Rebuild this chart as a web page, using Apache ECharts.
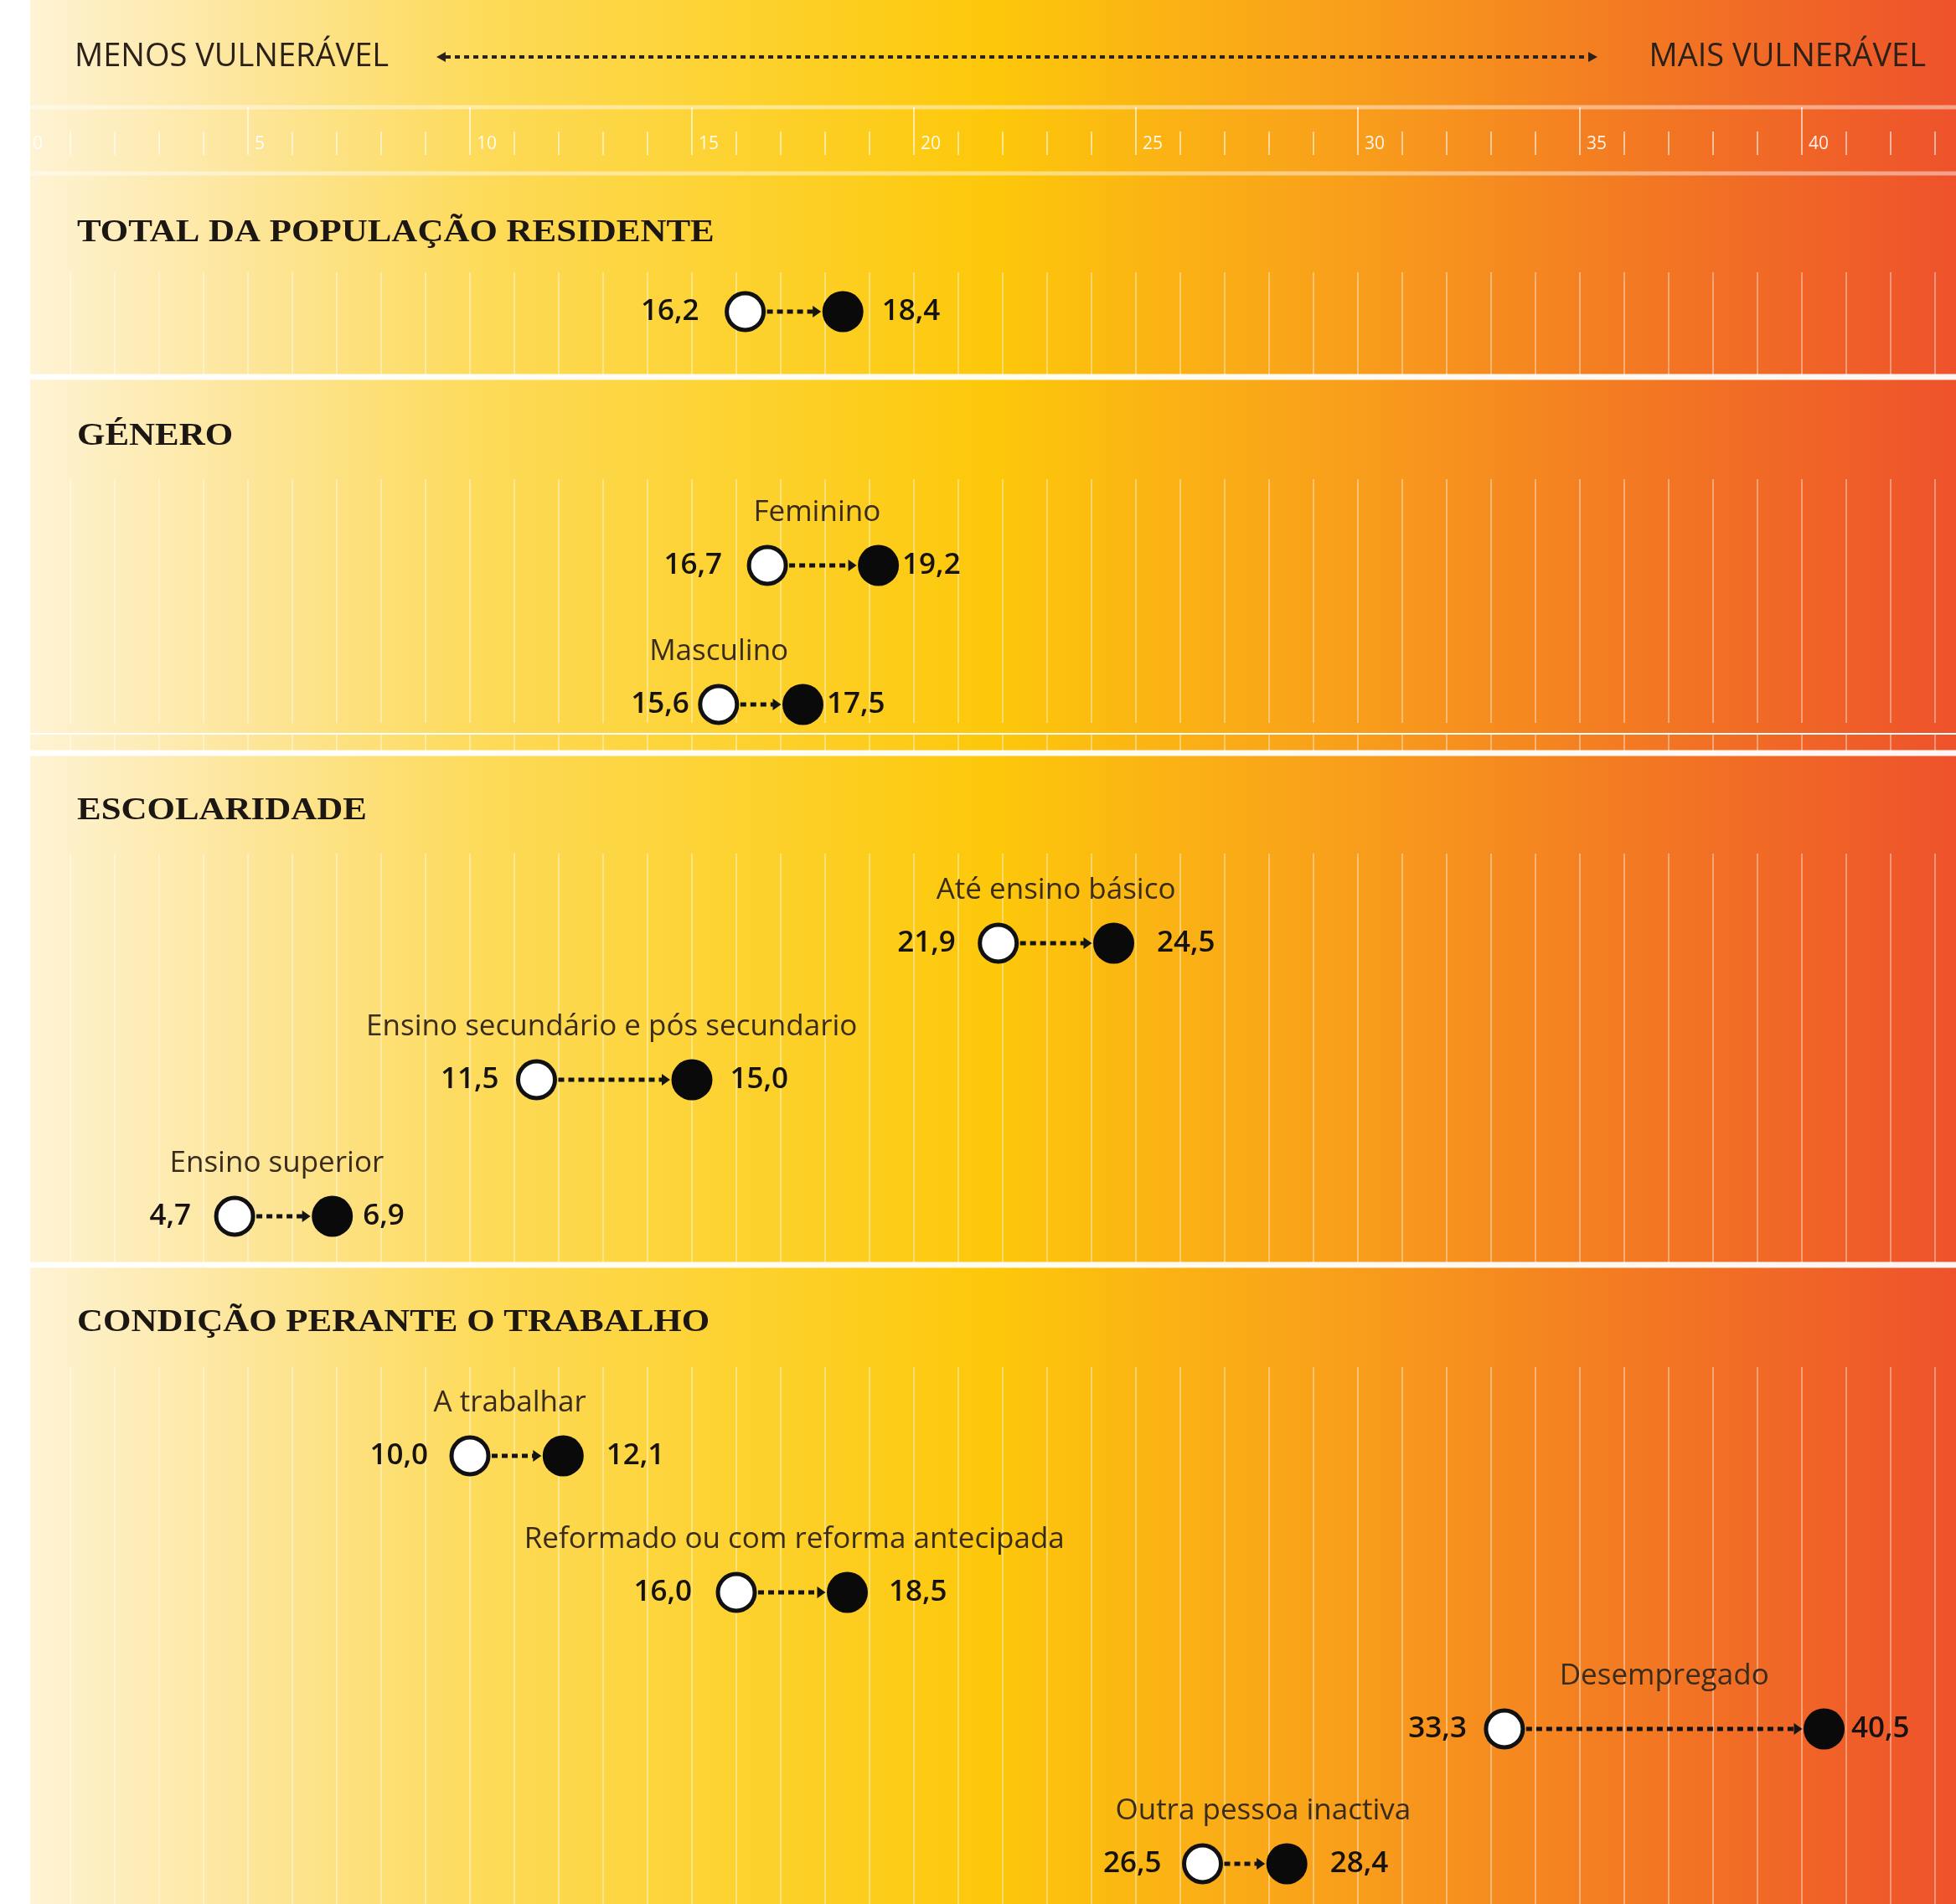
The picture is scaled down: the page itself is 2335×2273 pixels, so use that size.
<!DOCTYPE html>
<html>
<head>
<meta charset="utf-8">
<script src="https://cdn.jsdelivr.net/npm/echarts@6/dist/echarts.min.js"></script>
<style>
html,body{margin:0;padding:0;background:#ffffff;overflow:hidden;}
#chart{width:2416px;height:2273px;}
</style>
</head>
<body>
<div id="chart"></div>
<script>
// ---------------- DATA ----------------
const sectionTitles = ['TOTAL DA POPULAÇÃO RESIDENTE', 'GÉNERO', 'ESCOLARIDADE', 'CONDIÇÃO PERANTE O TRABALHO'];
const rowLabels = ['', 'Feminino', 'Masculino', 'Até ensino básico', 'Ensino secundário e pós secundario',
  'Ensino superior', 'A trabalhar', 'Reformado ou com reforma antecipada', 'Desempregado', 'Outra pessoa inactiva'];
const valuesBefore = [16.2, 16.7, 15.6, 21.9, 11.5, 4.7, 10.0, 16.0, 33.3, 26.5];
const valuesAfter  = [18.4, 19.2, 17.5, 24.5, 15.0, 6.9, 12.1, 18.5, 40.5, 28.4];
const scaleLeftText = 'MENOS VULNERÁVEL';
const scaleRightText = 'MAIS VULNERÁVEL';

// ---------------- LAYOUT ----------------
const W = 2335, H = 2273;
const X0 = 31, AX_MAX = 45, PX_PER = 53;
const CW = X0 + AX_MAX * PX_PER;   // canvas is wider than the picture; the axis runs past the right edge
const PANEL_X = 36;
const rowY = [372, 675, 841, 1126, 1289, 1452, 1738, 1901, 2064, 2225];
const labelDx = [0, -7, -50, 0, -3, -8, -8, 3, 0, 22];
const LABEL_DY = -63;
const gapL = [28, 27, 8, 24, 18, 25, 23, 26, 18, 22];
const gapR = [22, 4, 4, 27, 21, 12, 27, 25, 8, 27];
const titleY = [278, 521, 968, 1579];
const dividers = [
  {y: 128, w: 5, a: 0.45}, {y: 207, w: 5, a: 0.45},
  {y: 450, w: 7, a: 0.95}, {y: 876, w: 2, a: 1.0},
  {y: 899, w: 7, a: 0.95}, {y: 1510, w: 7, a: 0.95}
];
const lineBands = [[325, 448], [572, 863], [876, 899], [1019, 1507], [1632, 2273]];

const fmt = v => v.toFixed(1).replace('.', ',');
const chart = echarts.init(document.getElementById('chart'), null, {renderer: 'canvas', width: CW, height: H});

const grids = [], xAxes = [], yAxes = [];
const gridBase = {left: X0, right: 0, outerBoundsMode: 'none', containLabel: false};
// axis band (ticks + labels)
grids.push(Object.assign({top: 128, height: 57}, gridBase));
xAxes.push({
  gridIndex: 0, type: 'value', min: 0, max: AX_MAX, interval: 5, position: 'bottom',
  axisLine: {show: false},
  axisTick: {show: true, inside: true, length: 57, lineStyle: {color: 'rgba(255,255,255,0.6)', width: 2}},
  minorTick: {show: true, splitNumber: 5, length: 28, lineStyle: {color: 'rgba(255,255,255,0.55)', width: 2}},
  axisLabel: {show: true, inside: true, align: 'left', verticalAlign: 'middle', margin: 13, padding: [0, 0, 0, 8],
    color: 'rgba(255,255,255,0.9)', fontSize: 21, fontFamily: 'Open Sans', showMaxLabel: false},
  splitLine: {show: false}
});
yAxes.push({gridIndex: 0, type: 'value', show: false});
// vertical grid-line bands per section
lineBands.forEach((b) => {
  const gi = grids.length;
  grids.push(Object.assign({top: b[0], height: b[1] - b[0]}, gridBase));
  xAxes.push({
    gridIndex: gi, type: 'value', min: 0, max: AX_MAX, interval: 1,
    axisLine: {show: false}, axisTick: {show: false}, axisLabel: {show: false},
    splitLine: {show: true, lineStyle: {color: 'rgba(255,255,255,0.38)', width: 2}}
  });
  yAxes.push({gridIndex: gi, type: 'value', show: false});
});
// data grid
const DG = grids.length;
grids.push(Object.assign({top: 0, height: H}, gridBase));
xAxes.push({gridIndex: DG, type: 'value', min: 0, max: AX_MAX, show: false});
yAxes.push({gridIndex: DG, type: 'value', min: 0, max: H, inverse: true, show: false});

// graphics
const gfx = [];
gfx.push({
  type: 'rect', z: -10, silent: true,
  shape: {x: PANEL_X, y: 0, width: W - PANEL_X, height: H},
  style: {fill: new echarts.graphic.LinearGradient(0, 0, 1, 0, [
    {offset: 0.00, color: '#FEF3D4'},
    {offset: 0.11, color: '#FDE69C'},
    {offset: 0.24, color: '#FDDA57'},
    {offset: 0.37, color: '#FDD22F'},
    {offset: 0.50, color: '#FDC80A'},
    {offset: 0.58, color: '#FBB513'},
    {offset: 0.70, color: '#F89B1C'},
    {offset: 0.83, color: '#F37A22'},
    {offset: 1.00, color: '#EE522B'}
  ])}
});
gfx.push({type: 'rect', z: -10, silent: true, shape: {x: W, y: 0, width: CW - W, height: H}, style: {fill: '#EE522B'}});
dividers.forEach(d => gfx.push({
  type: 'rect', z: 1, silent: true,
  shape: {x: PANEL_X, y: d.y - d.w / 2, width: CW - PANEL_X, height: d.w},
  style: {fill: 'rgba(255,255,255,' + d.a + ')'}
}));
sectionTitles.forEach((t, k) => gfx.push({
  type: 'text', z: 5, x: 92, y: titleY[k], scaleX: 1.13,
  style: {text: t, font: 'bold 38px "Liberation Serif"', fill: '#1c1712', verticalAlign: 'middle', align: 'left'}
}));
gfx.push({type: 'text', z: 5, x: 89, y: 68,
  style: {text: scaleLeftText, font: '400 38px "Open Sans"', fill: '#2b2119', verticalAlign: 'middle', align: 'left'}});
gfx.push({type: 'text', z: 5, x: 2299, y: 68,
  style: {text: scaleRightText, font: '400 38px "Open Sans"', fill: '#2b2119', verticalAlign: 'middle', align: 'right'}});
gfx.push({type: 'line', z: 5, shape: {x1: 532, y1: 68, x2: 1896, y2: 68},
  style: {stroke: '#2a2118', lineWidth: 4, lineDash: [6, 5]}});
gfx.push({type: 'polygon', z: 5, shape: {points: [[521, 68], [532, 62], [532, 74]]}, style: {fill: '#2a2118'}});
gfx.push({type: 'polygon', z: 5, shape: {points: [[1907, 68], [1896, 62], [1896, 74]]}, style: {fill: '#2a2118'}});

const valueLabel = {
  show: true, fontSize: 35, fontWeight: 600, fontFamily: 'Open Sans', color: '#161210',
  formatter: p => fmt(p.value[0])
};

const option = {
  animation: false,
  grid: grids,
  xAxis: xAxes,
  yAxis: yAxes,
  graphic: {elements: gfx},
  series: [
    {
      type: 'custom', xAxisIndex: DG, yAxisIndex: DG, z: 3, silent: true,
      data: valuesBefore.map((v, i) => [v, valuesAfter[i], rowY[i], i]),
      encode: {x: [0, 1], y: 2},
      renderItem: (params, api) => {
        const i = api.value(3);
        const y = api.value(2);
        const p1 = api.coord([api.value(0), y]);
        const p2 = api.coord([api.value(1), y]);
        const r = 24;
        const xs = p1[0] + r + 2;
        const tip = p2[0] - r - 2;
        const xe = tip - 9;
        const children = [
          {type: 'line', shape: {x1: xs, y1: p1[1], x2: xe, y2: p1[1]},
            style: {stroke: '#141414', lineWidth: 5, lineDash: [7, 5]}},
          {type: 'polygon', shape: {points: [[xe - 1, p1[1] - 7], [tip, p1[1]], [xe - 1, p1[1] + 7]]},
            style: {fill: '#141414'}}
        ];
        if (rowLabels[i]) {
          children.push({type: 'text', x: (p1[0] + p2[0]) / 2 + labelDx[i], y: p1[1] + LABEL_DY,
            style: {text: rowLabels[i], fill: '#3a2c1c', font: '400 35px "Open Sans"', align: 'center', verticalAlign: 'middle'}});
        }
        return {type: 'group', children};
      }
    },
    {
      name: 'antes', type: 'scatter', xAxisIndex: DG, yAxisIndex: DG, z: 4, silent: true,
      symbol: 'circle', symbolSize: 44,
      itemStyle: {color: '#ffffff', borderColor: '#111111', borderWidth: 5, opacity: 1},
      label: Object.assign({position: 'left'}, valueLabel),
      data: valuesBefore.map((v, i) => ({value: [v, rowY[i]], label: {distance: gapL[i] + 2.5}}))
    },
    {
      name: 'depois', type: 'scatter', xAxisIndex: DG, yAxisIndex: DG, z: 4, silent: true,
      symbol: 'circle', symbolSize: 49,
      itemStyle: {color: '#0a0a0a', opacity: 1},
      label: Object.assign({position: 'right'}, valueLabel),
      data: valuesAfter.map((v, i) => ({value: [v, rowY[i]], label: {distance: gapR[i]}}))
    }
  ]
};
chart.setOption(option);
</script>
</body>
</html>
